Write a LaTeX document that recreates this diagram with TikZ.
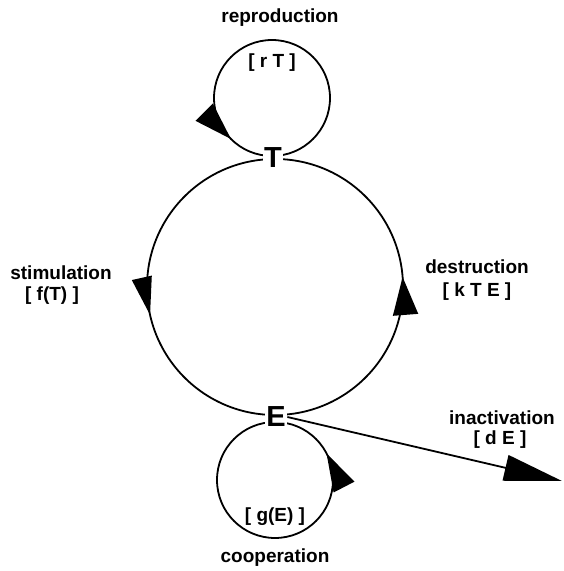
\documentclass[tikz,border=0pt]{standalone}
\usepackage{fontspec}
\setmainfont{Liberation Sans}
\usetikzlibrary{arrows.meta,decorations.markings}
\tikzset{
  line/.style={line width=1.8pt},
  lbl/.style={font=\bfseries\fontsize{19}{21}\selectfont, inner sep=0pt},
  state/.style={font=\bfseries\fontsize{29}{31}\selectfont, fill=white, inner sep=1.5pt},
  headat/.style 2 args={postaction={decorate}, decoration={markings,
      mark=at position #1 with {\arrow{Triangle[length=38pt,width=#2]}}}}
}
\begin{document}
\begin{tikzpicture}[x=1pt,y=1pt]
  \useasboundingbox (0,0) rectangle (564,571);
  % states
  \coordinate (Tpos) at (273,413);
  \coordinate (Epos) at (276,154);
  % main cycle: T -> E on the left, E -> T on the right
  \draw[line, headat={0.57}{20pt}] (275,412) arc[start angle=90, end angle=270, radius=128];
  \draw[line, headat={0.525}{25pt}] (275,156) arc[start angle=-90, end angle=90, radius=128];
  % self loops
  \draw[line, headat={0.875}{24pt}] (272,415) arc[start angle=-90, end angle=270, radius=58];
  \draw[line, headat={0.826}{23pt}] (275,149) arc[start angle=90, end angle=450, radius=58];
  \node[state] (T) at (Tpos) {T};
  \node[state] (E) at (Epos) {E};
  % inactivation
  \coordinate (out) at (562,90);
  \draw[line, -{Triangle[length=58pt,width=26pt]}] (E.east) -- (out);
  % labels
  \node[lbl] (rep) at (280,553) {reproduction};
  \node[lbl] (repr) at (272,508) {[ r T ]};
  \node[lbl] (stim) at (61,298) {stimulation};
  \node[lbl] (stimr) at (52,275) {[ f(T) ]};
  \node[lbl] (des) at (477,304) {destruction};
  \node[lbl] (desr) at (477,279) {[ k T E ]};
  \node[lbl] (ina) at (502,153) {inactivation};
  \node[lbl] (inar) at (500,131) {[ d E ]};
  \node[lbl] (coopr) at (275,54) {[ g(E) ]};
  \node[lbl] (coop) at (275,13) {cooperation};
\end{tikzpicture}
\end{document}
